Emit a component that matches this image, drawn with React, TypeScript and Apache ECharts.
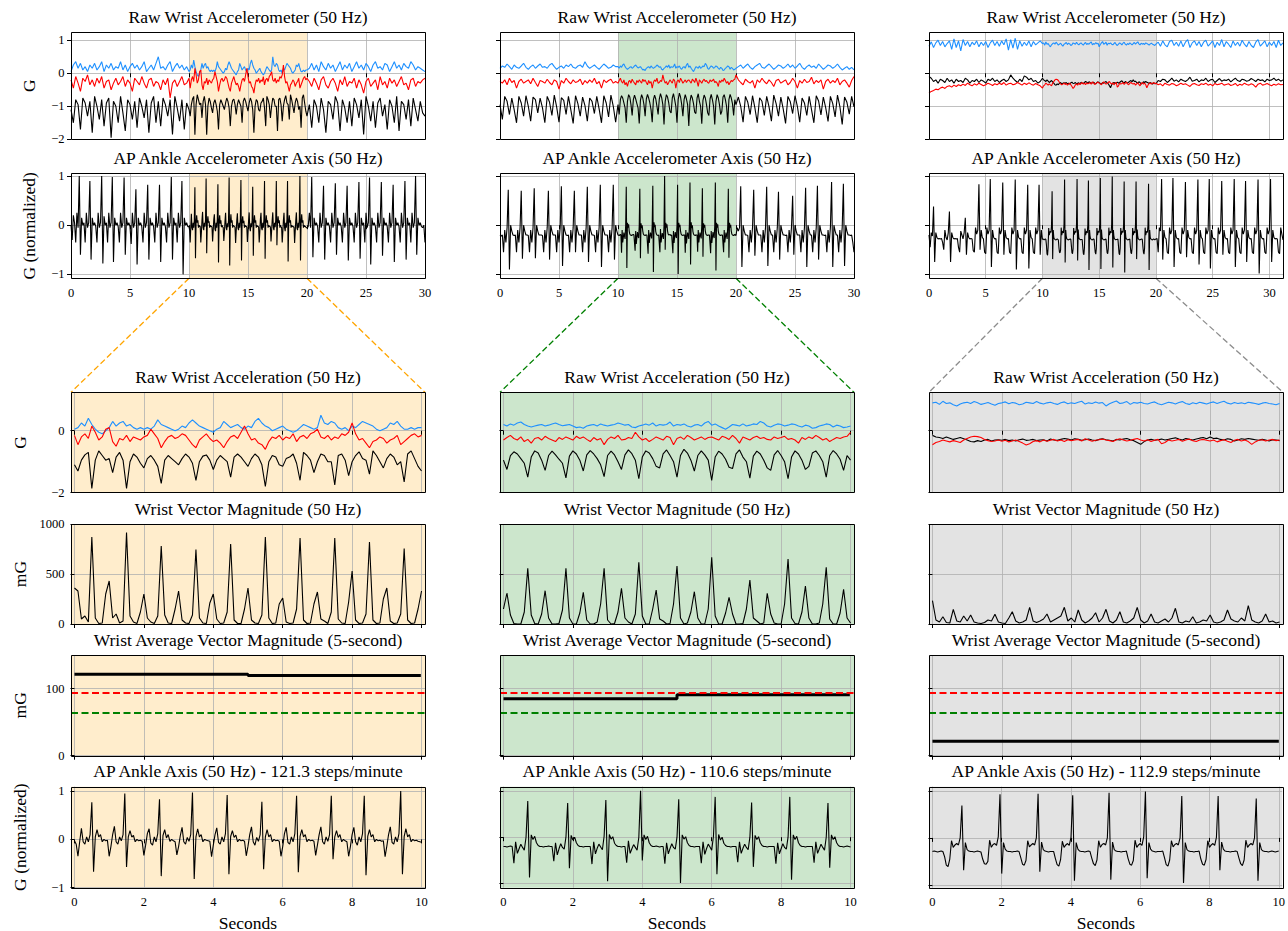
import React, { useEffect, useRef } from "react";
import * as echarts from "echarts";

// ---------------- labels / ticks ----------------
const TITLES = [
  "Raw Wrist Accelerometer (50 Hz)",
  "AP Ankle Accelerometer Axis (50 Hz)",
  "Raw Wrist Acceleration (50 Hz)",
  "Wrist Vector Magnitude (50 Hz)",
  "Wrist Average Vector Magnitude (5-second)",
  "AP Ankle Axis (50 Hz)",
];
const STEPS_PER_MIN = [121.3, 110.6, 112.9];
const Y_LABELS = ["G", "G (normalized)", "G", "mG", "mG", "G (normalized)"];
const X_LABEL = "Seconds";
const TOP_X_TICKS = [0, 5, 10, 15, 20, 25, 30];
const ZOOM_X_TICKS = [0, 2, 4, 6, 8, 10];
const Y_TICKS = [[-2, -1, 0, 1], [-1, 0, 1], [-2, 0], [0, 500, 1000], [0, 100], [-1, 0, 1]];
const ZOOM_SPAN = [10, 20];
const THRESH_RED = 93.4;
const THRESH_GREEN = 63.8;
const EPOCH_S = 5;

// 5-second average vector magnitude (mG), per column
const A_avgVM = [121.3, 119.3];
const B_avgVM = [84.9, 90.9];
const C_avgVM = [21.7, 21.7];

// ---------------- Column A (orange) ----------------
// zoom window, 10 Hz, hundredths of G
const A_zBlack = [-110,-130,-95,-78,-70,-186,-95,-65,-80,-95,
 -90,-135,-85,-70,-95,-186,-100,-75,-85,-105,
 -120,-90,-80,-95,-115,-170,-95,-80,-90,-100,
 -110,-90,-75,-85,-105,-160,-100,-82,-78,-95,
 -125,-95,-80,-90,-100,-150,-85,-75,-85,-100,
 -115,-90,-75,-85,-110,-180,-100,-80,-85,-110,
 -115,-90,-85,-75,-105,-160,-70,-80,-95,-135,
 -100,-75,-80,-100,-100,-175,-80,-75,-95,-145,
 -100,-80,-68,-90,-95,-140,-65,-80,-100,-120,
 -90,-75,-85,-110,-100,-165,-75,-65,-90,-115,
 -130];
const A_zRed = [-15,-45,-20,-10,-25,15,-5,-30,-20,5,
 10,-35,-50,-25,-30,-15,-35,-20,-25,-30,
 -20,-15,5,-10,-25,-55,-35,-20,-15,-25,
 -20,-10,-15,-30,-45,-55,-30,-20,-10,-25,
 -35,-30,-40,-55,-35,-20,-15,-25,-5,15,
 -10,-30,-25,-40,-45,-60,-35,-20,-25,-15,
 -30,-20,-25,-10,-35,-20,-15,-25,-10,-5,
 5,-20,-25,-15,-30,-20,-25,-10,-15,-5,
 25,-10,-30,-25,-40,-55,-35,-30,-20,-25,
 -40,-30,-25,-15,-45,-35,-25,-15,-10,-20,
 -15];
const A_zBlue = [5,10,25,15,40,20,5,-5,-10,0,
 10,30,15,25,30,15,20,10,5,10,
 5,10,5,15,35,20,15,10,5,0,
 5,15,10,25,35,25,15,10,5,0,
 -5,5,10,30,20,10,15,20,10,5,
 15,10,30,40,25,15,10,0,5,10,
 15,5,0,-5,0,10,20,15,10,5,
 10,50,25,20,30,25,10,5,10,0,
 15,10,20,30,25,20,15,5,0,5,
 10,25,20,30,15,5,5,10,5,10,
 10];
// mG, 10 Hz
const A_vm = [360,330,50,80,20,870,60,5,10,300,
 430,60,100,10,30,915,80,20,5,120,
 300,60,20,5,80,780,90,10,5,150,
 330,40,10,5,90,745,60,10,5,210,
 300,50,5,10,120,800,40,5,5,150,
 360,40,10,5,90,870,60,5,10,200,
 260,20,5,10,150,860,40,5,10,200,
 320,50,30,5,120,860,50,10,5,220,
 530,40,5,10,100,820,40,5,10,250,
 360,30,5,10,100,755,40,5,10,150,
 330];
// ankle zoom, 20 Hz, hundredths
const A_ankle = [-3,-10,-35,-5,23,-5,-10,5,-5,10,77,-67,5,20,5,10,-5,0,-3,-2,
 -35,-15,10,27,-5,-10,5,-3,10,95,-57,5,18,5,8,-5,0,-3,-2,-4,
 -33,-12,12,22,-8,-12,5,-5,12,83,-76,8,20,3,10,-4,0,-3,-5,-32,
 -15,8,25,-5,-10,4,-4,10,97,-82,5,22,5,10,-5,0,-2,-3,-4,-36,
 -12,10,24,-6,-10,5,-5,12,92,-72,6,18,4,9,-5,0,-3,-2,-4,-34,
 -14,10,26,-5,-12,4,-4,10,78,-62,5,20,5,10,-5,0,-3,-2,-4,-35,
 -15,12,25,-6,-10,5,-5,12,90,-68,6,20,5,10,-5,0,-3,-2,-4,-33,
 -12,10,26,-5,-10,5,-4,10,90,-41,5,18,4,10,-5,0,-3,-5,-35,-15,
 10,25,-5,-12,5,-5,12,90,-74,6,20,5,10,-5,0,-3,-2,-4,-3,-36,
 -14,10,26,-6,-10,5,-5,12,100,-72,6,22,5,10,-5,0,-3,-2,-4,-5,
 -6];
// full-record wrist, 5 Hz (0-9.8 s and 20.2-30 s)
const A_preBlack = [-110,-150,-80,-95,-170,-75,-90,-130,-85,-180,
 -70,-100,-140,-80,-160,-90,-75,-195,-85,-100,
 -150,-70,-120,-175,-80,-95,-140,-85,-165,-75,
 -100,-135,-80,-180,-90,-70,-150,-85,-160,-75,
 -95,-130,-80,-185,-70,-105,-145,-80,-170,-90];
const A_preRed = [-20,-45,-10,-30,-55,-15,-25,-5,-35,-20,
 -40,-15,-30,-10,-45,-25,-20,-50,-30,-15,
 -35,-25,-10,-40,-20,-30,-55,-15,-25,-35,
 -10,-30,-45,-20,-15,-40,-25,-30,-50,-20,
 -35,-15,-75,-30,-20,-40,-25,-10,-35,-30];
const A_preBlue = [5,25,35,15,30,10,20,5,25,15,
 30,10,20,35,5,25,15,30,10,20,
 15,35,10,25,5,20,30,15,25,10,
 20,35,5,15,25,10,30,50,15,20,
 10,25,35,5,20,30,15,25,10,20];
const A_postBlack = [-95,-165,-80,-100,-150,-75,-110,-180,-85,-95,
 -140,-70,-90,-175,-80,-105,-150,-85,-160,-75,
 -95,-135,-80,-185,-70,-100,-145,-85,-165,-90,
 -75,-130,-95,-170,-80,-100,-150,-70,-175,-85,
 -95,-140,-80,-160,-75,-110,-145,-85,-120,-130];
const A_postRed = [-25,-40,-15,-30,-50,-20,-10,-35,-45,-25,
 -15,-30,-55,-20,-35,-10,-40,-25,-30,-15,
 -45,-20,-35,-60,-25,-15,-40,-30,-20,-50,
 -10,-35,-25,-45,-15,-30,-20,-40,-25,-10,
 -35,-30,-50,-20,-15,-40,-25,-30,-20,-15];
const A_postBlue = [15,30,10,25,5,35,20,10,30,15,
 25,5,20,35,10,25,15,30,5,20,
 35,15,25,10,30,20,5,25,35,15,
 20,10,30,25,5,20,35,15,25,10,
 30,20,15,35,25,10,20,15,10,5];
// full-record ankle, 10 Hz (0-9.9 s and 20.1-30 s)
const A_preAnkle = [0,-30,20,5,-35,25,-5,100,-60,15,
 0,5,-35,25,-5,5,90,-70,15,0,
 5,-3,-35,25,-5,5,100,-78,18,0,
 5,-35,25,-5,5,98,-75,15,0,5,
 -3,-35,25,-5,5,97,-60,15,0,5,
 -3,-38,25,-5,5,73,-80,15,0,5,
 -3,-35,25,-5,5,82,-70,15,0,5,
 -3,-35,25,-5,5,82,-75,15,0,5,
 -3,-35,25,-5,5,98,-70,15,0,5,
 -35,25,-5,5,90,-100,15,0,5,-3];
const A_postAnkle = [-3,25,-5,98,-65,15,0,5,-3,-35,
 25,-5,5,80,-70,15,0,5,-3,-35,
 25,-5,5,85,-60,15,0,5,-3,-35,
 25,-5,5,80,-72,15,0,5,-3,-35,
 25,-5,5,88,-68,15,0,5,-35,25,
 -5,5,97,-80,15,0,5,-3,-35,25,
 -5,5,88,-62,15,0,5,-3,-35,25,
 -5,5,82,-75,15,0,5,-3,-35,25,
 -5,5,90,-70,15,0,5,-35,25,-5,
 5,100,-60,15,0,5,-3,-5,0,-35];

// ---------------- Column B (green) ----------------
const B_zBlack = [-95,-125,-80,-68,-75,-90,-105,-150,-85,-65,
 -72,-95,-128,-80,-66,-78,-92,-105,-152,-82,
 -65,-75,-95,-130,-78,-64,-75,-90,-110,-148,
 -80,-66,-78,-100,-125,-78,-62,-74,-95,-155,
 -85,-65,-72,-90,-115,-120,-75,-62,-80,-100,
 -150,-80,-60,-72,-95,-130,-80,-65,-78,-95,
 -160,-85,-66,-75,-92,-118,-122,-75,-62,-85,
 -100,-153,-82,-66,-75,-95,-120,-128,-78,-64,
 -80,-100,-155,-85,-65,-75,-95,-125,-115,-72,
 -65,-80,-100,-150,-80,-64,-75,-92,-128,-80,
 -95];
const B_zRed = [-30,-22,-15,-25,-30,-20,-35,-28,-40,-25,
 -22,-30,-18,-25,-30,-35,-22,-28,-20,-25,
 -30,-18,-25,-20,-28,-35,-22,-30,-25,-45,
 -28,-20,-25,-15,-30,-28,-22,-25,-5,-20,
 -30,-25,-35,-28,-20,-25,-30,-18,-22,-45,
 -25,-20,-28,-15,-22,-30,-25,-20,-28,-22,
 -20,-25,-30,-18,-22,-28,-15,-25,-40,-20,
 -25,-30,-22,-18,-25,-22,-28,-30,-20,-25,
 -22,-18,-28,-25,-30,-40,-22,-28,-20,-25,
 -15,-22,-30,-25,-35,-28,-22,-25,-20,-18,
 -5];
const B_zBlue = [20,15,22,18,25,28,20,15,12,15,
 18,20,15,18,22,25,20,16,18,20,
 15,10,12,8,15,18,20,15,22,18,
 15,18,20,25,22,18,20,12,10,15,
 18,22,18,25,15,20,18,20,28,15,
 20,18,22,15,12,18,20,15,25,30,
 18,22,15,10,5,12,20,18,15,22,
 15,18,22,20,30,25,15,12,18,22,
 20,15,18,22,20,15,12,18,15,8,
 10,15,18,22,20,12,18,15,10,12,
 15];
const B_vm = [150,310,90,5,0,0,120,557,90,5,
 0,100,333,60,0,0,5,140,557,60,
 0,0,110,317,40,0,0,20,200,557,
 40,0,5,120,357,60,20,0,100,617,
 80,0,0,150,340,50,30,0,5,200,
 580,60,0,10,120,323,60,0,0,150,
 667,80,0,0,110,267,100,0,0,5,
 150,440,60,30,0,10,307,100,10,0,
 0,200,650,60,5,0,120,380,60,0,
 0,10,200,567,50,0,0,110,347,60,
 10];
const B_ankle = [-20,-20,-21,-20,-19,-20,-56,-10,-35,-25,-15,-22,-28,0,78,-87,5,-5,2,-12,
 -18,-20,-20,-21,-20,-20,-19,-20,-20,-52,-12,-38,-25,-14,-22,-26,0,74,-67,4,
 -6,0,-12,-18,-20,-20,-21,-20,-20,-20,-20,-58,-10,-36,-24,-15,-21,-27,2,80,
 -95,6,-4,1,-13,-18,-20,-20,-21,-20,-20,-55,-8,-35,-25,-16,-22,-28,0,100,
 -50,5,-5,2,-12,-18,-20,-20,-19,-20,-21,-20,-20,-57,-12,-36,-24,-14,-22,-26,
 0,82,-99,5,-4,1,-12,-18,-20,-20,-21,-20,-20,-20,-56,-10,-37,-25,-15,-21,
 -28,2,87,-80,6,-6,0,-13,-18,-20,-20,-21,-20,-20,-20,-54,-10,-35,-24,-15,
 -22,-27,0,75,-64,4,-5,1,-12,-18,-20,-20,-21,-20,-20,-20,-20,-57,-12,-36,
 -25,-14,-22,-26,0,87,-92,5,-5,2,-12,-18,-20,-20,-21,-20,-20,-20,-20,-55,
 -10,-35,-25,-15,-22,-28,0,74,-66,5,-5,1,-12,-18,-20,-20,-21,-20,-19,-20,
 -21];
const B_preBlack = [-95,-140,-70,-85,-125,-75,-110,-150,-70,-90,
 -130,-68,-100,-145,-72,-80,-120,-75,-105,-150,
 -70,-88,-128,-66,-102,-148,-74,-82,-125,-70,
 -110,-152,-68,-92,-130,-72,-98,-145,-75,-85,
 -122,-70,-108,-150,-68,-90,-132,-66,-100,-148];
const B_preRed = [-25,-30,-20,-35,-15,-28,-22,-45,-25,-18,
 -30,-25,-20,-32,-15,-28,-40,-22,-25,-30,
 -18,-28,-35,-20,-25,-48,-22,-30,-15,-25,
 -32,-20,-28,-25,-18,-35,-22,-30,-20,-28,
 -15,-32,-25,-45,-20,-28,-22,-18,-30,-25];
const B_preBlue = [15,22,18,28,20,12,25,18,15,22,
 30,18,12,20,25,15,22,28,18,20,
 15,25,30,20,12,18,22,15,25,20,
 28,18,15,22,25,18,35,22,15,20,
 25,18,12,20,28,22,15,18,25,20];
const B_postBlack = [-72,-100,-148,-70,-88,-125,-68,-105,-150,-74,
 -85,-128,-70,-102,-145,-66,-92,-130,-72,-108,
 -152,-70,-86,-122,-68,-100,-148,-75,-90,-128,
 -70,-110,-150,-68,-84,-126,-72,-104,-146,-70,
 -92,-132,-66,-100,-155,-72,-88,-124,-70,-102];
const B_postRed = [-20,-28,-35,-18,-25,-30,-22,-45,-20,-28,
 -15,-25,-32,-20,-28,-40,-22,-18,-30,-25,
 -20,-35,-28,-15,-25,-45,-22,-30,-18,-28,
 -25,-12,-32,-22,-28,-20,-48,-25,-18,-30,
 -22,-28,-15,-35,-25,-20,-30,-42,-22,-10];
const B_postBlue = [20,25,15,22,28,18,12,20,25,30,
 18,15,22,28,20,12,18,25,22,15,
 20,28,18,25,15,22,30,18,12,20,
 25,18,22,15,28,20,12,18,25,22,
 15,20,28,18,10,15,20,12,18,10];
const B_preAnkle = [-20,-22,-20,-55,-10,-35,-5,72,-90,0,
 -12,-20,-21,-20,-55,-10,-35,-5,70,-68,
 0,-12,-20,-20,-21,-55,-10,-35,-5,75,
 -67,0,-12,-20,-20,-20,-21,-55,-10,-35,
 -5,70,-70,0,-12,-20,-20,-20,-55,-10,
 -35,-5,79,-83,0,-12,-20,-21,-20,-55,
 -10,-35,-5,70,-55,0,-12,-20,-20,-20,
 -55,-10,-35,-5,78,-75,0,-12,-20,-20,
 -21,-55,-10,-35,-5,82,-85,0,-12,-20,
 -20,-20,-55,-10,-35,-5,82,-70,0,-12];
const B_postAnkle = [-5,-12,-5,79,-85,0,-12,-20,-20,-21,
 -55,-10,-35,-5,72,-62,0,-12,-20,-20,
 -20,-55,-10,-35,-5,78,-83,0,-12,-20,
 -20,-55,-10,-35,-5,68,-70,0,-12,-20,
 -20,-21,-20,-55,-10,-35,-5,60,-60,0,
 -12,-20,-20,-20,-55,-10,-35,-5,76,-85,
 0,-12,-20,-20,-55,-10,-35,-5,80,-70,
 0,-12,-20,-20,-21,-20,-55,-10,-35,-5,
 88,-85,0,-12,-20,-20,-55,-10,-35,-5,
 84,-83,0,-12,-20,-20,-21,-20,-35,-55];

// ---------------- Column C (gray) ----------------
const C_zBlack = [-15,-20,-22,-25,-20,-24,-28,-25,-22,-26,
 -30,-35,-36,-32,-35,-30,-28,-33,-30,-29,
 -31,-28,-32,-30,-33,-29,-27,-31,-30,-28,
 -32,-30,-29,-33,-27,-30,-31,-28,-25,-27,
 -30,-26,-28,-31,-29,-27,-30,-32,-28,-26,
 -29,-31,-33,-28,-30,-27,-25,-29,-32,-38,
 -44,-35,-30,-28,-31,-29,-27,-30,-28,-25,
 -23,-27,-30,-25,-28,-30,-27,-24,-22,-26,
 -20,-25,-24,-28,-30,-26,-28,-33,-30,-26,
 -28,-25,-27,-29,-31,-28,-30,-33,-29,-30,
 -32];
const C_zRed = [-45,-38,-35,-30,-33,-36,-32,-35,-38,-30,
 -25,-20,-18,-19,-22,-28,-32,-35,-33,-30,
 -34,-31,-36,-33,-30,-35,-40,-46,-42,-35,
 -32,-36,-30,-34,-31,-28,-33,-30,-35,-29,
 -32,-30,-28,-33,-26,-30,-34,-31,-29,-27,
 -30,-32,-35,-29,-26,-30,-33,-31,-28,-25,
 -30,-33,-29,-35,-31,-28,-42,-38,-30,-33,
 -31,-28,-34,-30,-27,-32,-35,-30,-28,-31,
 -33,-30,-36,-32,-29,-34,-38,-31,-28,-33,
 -30,-35,-44,-36,-31,-29,-33,-30,-28,-32,
 -30];
const C_zBlue = [90,92,85,95,88,90,84,80,86,90,
 92,88,94,90,85,88,91,86,82,88,
 90,93,87,91,89,84,86,92,90,88,
 94,89,86,90,92,88,85,90,93,87,
 90,88,92,95,86,90,88,93,89,91,
 80,87,92,96,88,90,94,85,91,89,
 92,88,86,90,93,87,84,88,92,90,
 86,91,94,88,85,90,87,92,89,86,
 90,93,88,92,95,89,86,91,88,90,
 87,92,90,88,85,89,91,88,86,84,
 88];
const C_vm = [233,40,20,73,15,10,147,30,20,80,
 30,90,20,10,5,15,40,30,97,20,
 10,5,60,123,30,10,20,40,167,30,
 15,30,50,100,20,40,60,80,167,30,
 60,20,140,40,10,30,60,113,20,60,
 147,30,10,40,123,20,10,30,60,167,
 40,10,30,100,20,10,30,50,20,60,
 157,20,10,30,20,73,10,20,40,30,
 90,20,10,20,40,140,50,30,20,60,
 30,183,40,20,10,30,100,20,30,10,
 20];
const C_ankle = [-29,-28,-29,-30,-29,-28,-29,-40,-58,-61,-45,-6,-20,-15,-12,-15,0,69,-69,-10,
 -25,-28,-29,-29,-30,-29,-28,-29,-30,-45,-55,-56,-50,-5,-20,-14,-12,-16,2,93,
 -76,-10,-24,-28,-29,-29,-30,-29,-29,-28,-29,-42,-56,-58,-48,-6,-19,-15,-12,-15,
 0,94,-72,-9,-25,-28,-29,-30,-29,-29,-29,-44,-57,-60,-46,-7,-20,-15,-12,-16,
 1,91,-91,-10,-24,-28,-29,-29,-30,-29,-28,-29,-43,-55,-59,-47,-6,-20,-14,-12,
 -15,0,96,-89,-9,-25,-28,-29,-29,-30,-29,-29,-28,-44,-56,-58,-48,-5,-20,-15,
 -12,-16,2,99,-86,-10,-24,-28,-29,-30,-29,-29,-29,-28,-42,-57,-60,-47,-6,-19,
 -14,-12,-15,0,89,-96,-10,-25,-28,-29,-29,-30,-29,-29,-28,-45,-56,-58,-46,-6,
 -20,-15,-12,-16,1,89,-69,-9,-24,-28,-29,-29,-30,-29,-29,-28,-29,-43,-55,-59,
 -47,-5,-20,-15,-12,-15,0,84,-91,-10,-25,-28,-29,-29,-30,-29,-28,-29,-30,-29,
 -28];
const C_preBlue = [82,95,78,92,100,84,96,80,90,98,
 72,104,78,98,68,102,84,96,80,94,
 86,98,80,94,84,96,78,92,100,84,
 96,82,98,86,104,70,102,76,106,72,
 98,82,94,84,98,80,96,86,92,98];
const C_preBlack = [-10,-15,-25,-20,-30,-18,-22,-28,-15,-25,
 -20,-30,-18,-25,-22,-28,-15,-20,-30,-22,
 -25,-18,-28,-20,-24,-30,-18,-22,-15,-25,
 -20,-28,-22,-18,-25,-20,-5,-15,-22,-28,
 -18,-25,-8,-12,-20,-15,-25,-22,-30,-25];
const C_preRed = [-60,-55,-52,-48,-50,-45,-42,-46,-40,-38,
 -42,-36,-40,-35,-38,-33,-37,-30,-35,-38,
 -32,-36,-30,-34,-38,-35,-30,-33,-37,-32,
 -35,-30,-34,-28,-36,-32,-30,-35,-33,-28,
 -32,-36,-30,-34,-29,-33,-36,-31,-35,-38];
const C_postBlue = [94,82,98,86,80,96,100,84,94,82,
 98,80,94,102,78,92,98,84,96,80,
 94,100,82,90,98,78,94,84,102,80,
 96,88,78,98,84,94,82,100,88,80,
 96,84,78,94,102,82,90,98,80,94,
 84,96,78,100,84,92];
const C_postBlack = [-22,-25,-18,-20,-28,-22,-15,-24,-20,-26,
 -18,-22,-25,-20,-12,-24,-22,-18,-26,-20,
 -22,-15,-25,-20,-18,-28,-22,-16,-24,-20,
 -22,-18,-26,-20,-15,-22,-25,-18,-20,-24,
 -22,-16,-20,-25,-18,-22,-20,-26,-18,-22,
 -20,-15,-22,-18,-24,-20];
const C_postRed = [-35,-32,-38,-30,-34,-36,-31,-33,-38,-35,
 -30,-34,-32,-36,-40,-33,-31,-35,-37,-32,
 -34,-30,-36,-33,-38,-31,-35,-33,-30,-36,
 -34,-32,-37,-35,-31,-38,-33,-36,-30,-34,
 -36,-32,-35,-42,-33,-30,-36,-34,-31,-35,
 -38,-33,-36,-32,-35,-34];
const C_preAnkle = [-20,-45,-15,-22,38,-75,-15,-25,-28,-27,
 -28,-27,-35,-50,-10,-25,-30,-15,28,-75,
 -15,-25,-28,-27,-28,-27,-45,-55,-12,-20,
 -28,-15,15,-60,-15,-25,-28,-27,-28,-52,
 -55,-5,-18,-10,83,-50,-10,-25,-28,-55,
 -58,-5,-18,-10,94,-85,-10,-25,-28,-27,
 -55,-58,-5,-18,-10,87,-60,-10,-25,-28,
 -27,-55,-58,-5,-18,-10,93,-90,-10,-25,
 -28,-27,-55,-58,-5,-18,-10,82,-88,-10,
 -25,-28,-55,-58,-5,-18,-10,82,-60,-10];
const C_postAnkle = [-27,-55,-5,-12,94,-70,-10,-25,-28,-55,
 -58,-5,-18,-10,96,-85,-10,-25,-28,-27,
 -55,-58,-5,-18,-10,88,-65,-10,-25,-28,
 -27,-55,-58,-5,-18,-10,93,-80,-10,-25,
 -28,-55,-58,-5,-18,-10,94,-88,-10,-25,
 -28,-27,-55,-58,-5,-18,-10,90,-60,-10,
 -25,-28,-27,-55,-58,-5,-18,-10,94,-85,
 -10,-25,-28,-55,-58,-5,-18,-10,90,-75,
 -10,-25,-28,-27,-55,-58,-5,-18,-10,93,
 -98,-10,-25,-28,-27,-55,-58,-5,-18,-10,
 94,-75,-10,-25,-28,-27,-28,-55,-58,-5,
 -18,-30];

// ---------------- layout / style ----------------
const W = 1288;
const H = 931;
const FONT = "'Liberation Serif', 'Times New Roman', serif";
const COL_LEFT = [71, 500, 929];
const COL_W = 354;
const ROW_TOP = [32.3, 173.3, 392.3, 524, 655, 786.7];
const ROW_H = [107, 105, 100.4, 100, 100.7, 101];
const ZOOM_X_RANGE = [-0.1, 10.1];
const Y_RANGE_ROWS = [[-2, 1.24], [-1.08, 1.055], [-2, 1.24], [0, 1000], [0, 150]];
const BLUE = "#1E90FF";
const RED = "#FF0000";

const seg = (vals: number[], t0: number, dt: number, k = 0.01) =>
  vals.map((v, i) => [Math.round((t0 + i * dt) * 1000) / 1000, v * k]);

const COLS = [
  {
    shade: "rgba(255,165,0,0.2)", link: "#FFA500", topXMax: 30, r5: [-1.0, 1.09], avg: A_avgVM,
    topBlack: [...seg(A_preBlack, 0, 0.2), ...seg(A_zBlack, 10, 0.1), ...seg(A_postBlack, 20.2, 0.2)],
    topRed: [...seg(A_preRed, 0, 0.2), ...seg(A_zRed, 10, 0.1), ...seg(A_postRed, 20.2, 0.2)],
    topBlue: [...seg(A_preBlue, 0, 0.2), ...seg(A_zBlue, 10, 0.1), ...seg(A_postBlue, 20.2, 0.2)],
    topAnkle: [...seg(A_preAnkle, 0, 0.1), ...seg(A_ankle, 10, 0.05), ...seg(A_postAnkle, 20.1, 0.1)],
    zBlack: seg(A_zBlack, 0, 0.1), zRed: seg(A_zRed, 0, 0.1), zBlue: seg(A_zBlue, 0, 0.1),
    vm: seg(A_vm, 0, 0.1, 1), ankle: seg(A_ankle, 0, 0.05),
  },
  {
    shade: "rgba(0,128,0,0.2)", link: "#008000", topXMax: 30, r5: [-1.09, 1.09], avg: B_avgVM,
    topBlack: [...seg(B_preBlack, 0, 0.2), ...seg(B_zBlack, 10, 0.1), ...seg(B_postBlack, 20.2, 0.2)],
    topRed: [...seg(B_preRed, 0, 0.2), ...seg(B_zRed, 10, 0.1), ...seg(B_postRed, 20.2, 0.2)],
    topBlue: [...seg(B_preBlue, 0, 0.2), ...seg(B_zBlue, 10, 0.1), ...seg(B_postBlue, 20.2, 0.2)],
    topAnkle: [...seg(B_preAnkle, 0, 0.1), ...seg(B_ankle, 10, 0.05), ...seg(B_postAnkle, 20.1, 0.1)],
    zBlack: seg(B_zBlack, 0, 0.1), zRed: seg(B_zRed, 0, 0.1), zBlue: seg(B_zBlue, 0, 0.1),
    vm: seg(B_vm, 0, 0.1, 1), ankle: seg(B_ankle, 0, 0.05),
  },
  {
    shade: "rgba(128,128,128,0.22)", link: "#8c8c8c", topXMax: 31.2, r5: [-1.06, 1.09], avg: C_avgVM,
    topBlack: [...seg(C_preBlack, 0, 0.2), ...seg(C_zBlack, 10, 0.1), ...seg(C_postBlack, 20.2, 0.2)],
    topRed: [...seg(C_preRed, 0, 0.2), ...seg(C_zRed, 10, 0.1), ...seg(C_postRed, 20.2, 0.2)],
    topBlue: [...seg(C_preBlue, 0, 0.2), ...seg(C_zBlue, 10, 0.1), ...seg(C_postBlue, 20.2, 0.2)],
    topAnkle: [...seg(C_preAnkle, 0, 0.1), ...seg(C_ankle, 10, 0.05), ...seg(C_postAnkle, 20.1, 0.1)],
    zBlack: seg(C_zBlack, 0, 0.1), zRed: seg(C_zRed, 0, 0.1), zBlue: seg(C_zBlue, 0, 0.1),
    vm: seg(C_vm, 0, 0.1, 1), ankle: seg(C_ankle, 0, 0.05),
  },
];

const fmt = (v: number) => String(v).replace("-", "\u2212");

function makeAxis(i: number, min: number, max: number, ticks: number[], showLabel: boolean, isX: boolean) {
  return {
    type: "value",
    gridIndex: i,
    min,
    max,
    axisLine: { show: false },
    axisTick: { show: true, length: 4, customValues: ticks, lineStyle: { color: "#000", width: 1 } },
    axisLabel: {
      show: showLabel,
      customValues: ticks,
      formatter: fmt,
      fontFamily: FONT,
      fontSize: 12.5,
      color: "#000",
      margin: isX ? 8 : 6.5,
    },
    splitLine: { show: true, lineStyle: { color: "#b0b0b0", width: 0.8 } },
  };
}

function lineSeries(i: number, data: number[][], color: string, width = 1.1, extra: any = {}) {
  return {
    type: "line",
    xAxisIndex: i,
    yAxisIndex: i,
    data,
    symbol: "none",
    showSymbol: false,
    silent: true,
    clip: true,
    lineStyle: { color, width },
    emphasis: { disabled: true },
    ...extra,
  };
}

function buildOption() {
  const grid: any[] = [];
  const xAxis: any[] = [];
  const yAxis: any[] = [];
  const series: any[] = [];
  for (let r = 0; r < 6; r++) {
    for (let c = 0; c < 3; c++) {
      const i = r * 3 + c;
      const col = COLS[c];
      grid.push({
        left: COL_LEFT[c], top: ROW_TOP[r], width: COL_W, height: ROW_H[r],
        show: true, borderWidth: 0,
        backgroundColor: r >= 2 ? col.shade : "transparent",
      });
      const top = r < 2;
      xAxis.push(makeAxis(i, top ? 0 : ZOOM_X_RANGE[0], top ? col.topXMax : ZOOM_X_RANGE[1],
        top ? TOP_X_TICKS : ZOOM_X_TICKS, r === 1 || r === 5, true));
      const yr = r === 5 ? col.r5 : Y_RANGE_ROWS[r];
      yAxis.push(makeAxis(i, yr[0], yr[1], Y_TICKS[r], c === 0, false));
    }
  }
  COLS.forEach((col, c) => {
    // shaded zoom window on the full-record plots
    [c, 3 + c].forEach((i) => {
      series.push({
        type: "line", xAxisIndex: i, yAxisIndex: i, data: [], silent: true, z: -1,
        markArea: {
          silent: true, z: -1, itemStyle: { color: col.shade },
          data: [[{ xAxis: ZOOM_SPAN[0] }, { xAxis: ZOOM_SPAN[1] }]],
        },
      });
    });
    series.push(lineSeries(c, col.topBlue, BLUE));
    series.push(lineSeries(c, col.topBlack, "#000"));
    series.push(lineSeries(c, col.topRed, RED));
    series.push(lineSeries(3 + c, col.topAnkle, "#000"));
    series.push(lineSeries(6 + c, col.zBlue, BLUE));
    series.push(lineSeries(6 + c, col.zBlack, "#000"));
    series.push(lineSeries(6 + c, col.zRed, RED));
    series.push(lineSeries(9 + c, col.vm, "#000"));
    const avgData: number[][] = [];
    col.avg.forEach((v, k) => {
      avgData.push([k * EPOCH_S, v]);
      avgData.push([k === col.avg.length - 1 ? (k + 1) * EPOCH_S - 0.02 : (k + 1) * EPOCH_S, v]);
    });
    series.push(lineSeries(12 + c, avgData, "#000", 3, {
      markLine: {
        silent: true, symbol: ["none", "none"], label: { show: false },
        emphasis: { disabled: true },
        data: [
          { yAxis: THRESH_RED, lineStyle: { color: RED, width: 1.8, type: [7, 3.5] } },
          { yAxis: THRESH_GREEN, lineStyle: { color: "#008000", width: 1.8, type: [7, 3.5] } },
        ],
      },
    }));
    series.push(lineSeries(15 + c, col.ankle, "#000", 1.1));
  });
  return { animation: false, backgroundColor: "#fff", grid, xAxis, yAxis, series };
}

function textEl(text: string, x: number, y: number, size: number, rot = 0) {
  return {
    type: "text", x, y, rotation: rot, silent: true, z: 50,
    style: { text, fontFamily: FONT, fontSize: size, fill: "#000", align: "center", verticalAlign: "middle" },
  };
}

export default function App() {
  const ref = useRef<HTMLDivElement>(null);
  useEffect(() => {
    if (!ref.current) return;
    const chart = echarts.init(ref.current, null, { renderer: "svg", width: W, height: H });
    chart.setOption(buildOption());
    const els: any[] = [];
    for (let r = 0; r < 6; r++) {
      for (let c = 0; c < 3; c++) {
        const cx = COL_LEFT[c] + COL_W / 2;
        const t = r === 5 ? `${TITLES[5]} - ${STEPS_PER_MIN[c]} steps/minute` : TITLES[r];
        els.push(textEl(t, cx, ROW_TOP[r] - 15.4, 17.5));
        els.push({
          type: "rect", silent: true, z: 60,
          shape: { x: Math.round(COL_LEFT[c]) + 0.5, y: Math.round(ROW_TOP[r]) + 0.5, width: COL_W, height: Math.round(ROW_H[r]) },
          style: { fill: "none", stroke: "#000", lineWidth: 1 },
        });
      }
      els.push(textEl(Y_LABELS[r], r < 2 ? 29 : 20, ROW_TOP[r] + ROW_H[r] / 2, 17.5, Math.PI / 2));
    }
    for (let c = 0; c < 3; c++) {
      els.push(textEl(X_LABEL, COL_LEFT[c] + COL_W / 2, 922.5, 17.5));
      const yBottom = Y_RANGE_ROWS[1][0];
      const p1 = chart.convertToPixel({ gridIndex: 3 + c }, [ZOOM_SPAN[0], yBottom]) as number[];
      const p2 = chart.convertToPixel({ gridIndex: 3 + c }, [ZOOM_SPAN[1], yBottom]) as number[];
      const q1 = chart.convertToPixel({ gridIndex: 6 + c }, [ZOOM_X_RANGE[0], Y_RANGE_ROWS[2][1]]) as number[];
      const q2 = chart.convertToPixel({ gridIndex: 6 + c }, [ZOOM_X_RANGE[1], Y_RANGE_ROWS[2][1]]) as number[];
      [[p1, q1], [p2, q2]].forEach(([a, b]) => {
        els.push({
          type: "line", silent: true, z: 40,
          shape: { x1: a[0], y1: a[1], x2: b[0], y2: b[1] },
          style: { stroke: COLS[c].link, lineWidth: 1.3, lineDash: [6, 3] },
        });
      });
    }
    chart.setOption({ graphic: { elements: els } });
    return () => chart.dispose();
  }, []);
  return (
    <div
      ref={ref}
      style={{ position: "absolute", left: 0, top: 0, width: W, height: H, background: "#fff" }}
    />
  );
}
